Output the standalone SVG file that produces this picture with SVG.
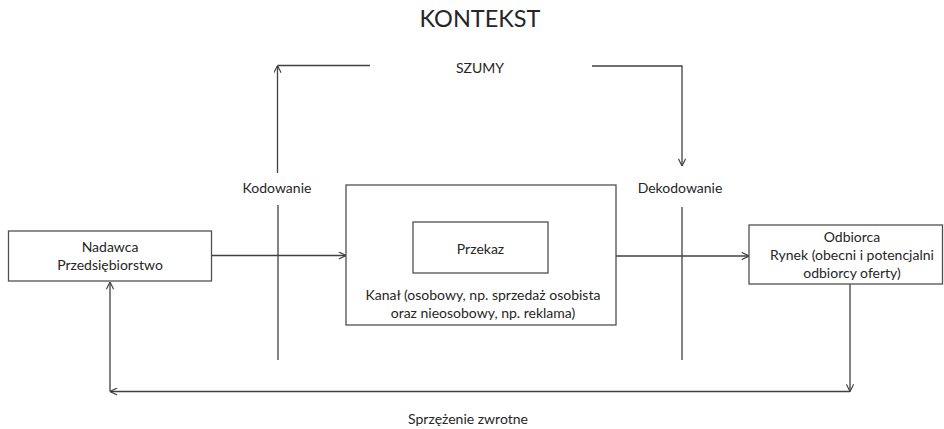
<svg xmlns="http://www.w3.org/2000/svg" width="944" height="429" viewBox="0 0 944 429">
  <defs>
    <marker id="arrow" viewBox="0 0 10 10" refX="10" refY="5" markerWidth="8" markerHeight="8" markerUnits="userSpaceOnUse" orient="auto">
      <path d="M1,0.5 L10,5 L1,9.5" fill="none" stroke="#404040" stroke-width="1.4"/>
    </marker>
  </defs>
  <style>
    .box { fill: #ffffff; stroke: #505050; stroke-width: 1.3; }
    .line { fill: none; stroke: #404040; stroke-width: 1.3; }
    .arr { marker-end: url(#arrow); }
    text { font-family: Lato, "Liberation Sans", sans-serif; fill: #262626; font-size: 14px; text-anchor: middle; }
    .title { font-size: 23.5px; }
  </style>
  <rect width="944" height="429" fill="#ffffff"/>

  <!-- free labels -->
  <text class="title" x="480" y="27">KONTEKST</text>
  <text x="480" y="73">SZUMY</text>
  <text x="277" y="193">Kodowanie</text>
  <text x="680" y="193">Dekodowanie</text>
  <text x="468" y="424">Sprzężenie zwrotne</text>

  <!-- connectors -->
  <g id="connectors">
    <path class="line arr" d="M212,255.5 H346"/>
    <path class="line arr" d="M616,256 H749"/>
    <!-- coding line with noise branch -->
    <path class="line" d="M278,360 V205"/>
    <path class="line arr" d="M277.5,173 V65.5"/>
    <path class="line" d="M277.5,65.5 H370"/>
    <!-- decoding line with noise branch -->
    <path class="line arr" d="M592,66 H682 V166"/>
    <path class="line" d="M682,207 V360"/>
    <!-- feedback loop -->
    <path class="line arr" d="M850,284 V391.5"/>
    <path class="line arr" d="M850,391.5 H110"/>
    <path class="line arr" d="M110,391.5 V282"/>
  </g>

  <g id="nadawca">
    <rect class="box" x="8.5" y="231" width="203" height="50"/>
    <text x="110" y="252">Nadawca</text>
    <text x="110" y="270">Przedsiębiorstwo</text>
  </g>

  <g id="kanal">
    <rect class="box" x="346" y="185" width="270" height="140"/>
    <text x="483" y="300">Kanał (osobowy, np. sprzedaż osobista</text>
    <text x="483" y="318">oraz nieosobowy, np. reklama)</text>
  </g>

  <g id="przekaz">
    <rect class="box" x="413" y="222" width="135" height="51"/>
    <text x="480.5" y="254">Przekaz</text>
  </g>

  <g id="odbiorca">
    <rect class="box" x="749" y="225" width="193.5" height="59"/>
    <text x="852" y="242">Odbiorca</text>
    <text x="852" y="260">Rynek (obecni i potencjalni</text>
    <text x="852" y="278">odbiorcy oferty)</text>
  </g>
</svg>
